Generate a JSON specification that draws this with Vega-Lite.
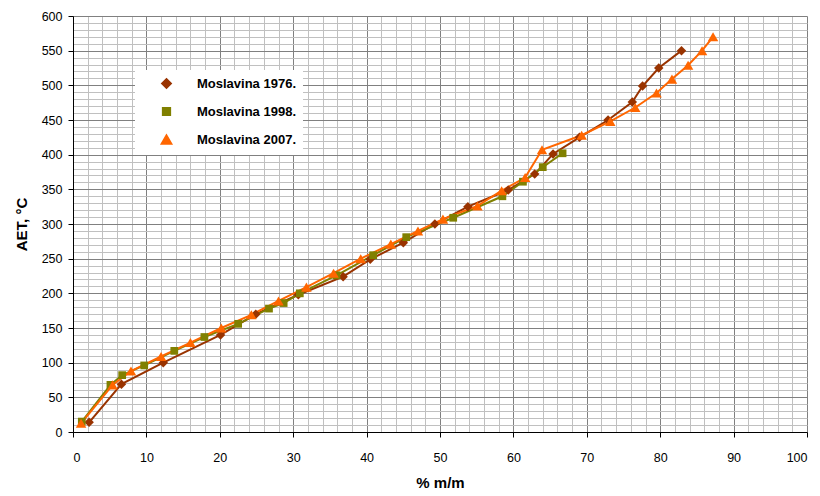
{
  "$schema": "https://vega.github.io/schema/vega-lite/v6.json",
  "width": 734,
  "height": 416,
  "autosize": {"type": "none"},
  "padding": {"left": 73, "top": 16, "right": 13, "bottom": 64},
  "background": "white",
  "config": {
    "view": {"stroke": null},
    "font": "Liberation Sans"
  },
  "data": {
    "values": [
      {"s": "Moslavina 1976.", "x": 2.2, "y": 14},
      {"s": "Moslavina 1976.", "x": 6.6, "y": 69},
      {"s": "Moslavina 1976.", "x": 12.3, "y": 100},
      {"s": "Moslavina 1976.", "x": 20.1, "y": 140},
      {"s": "Moslavina 1976.", "x": 24.9, "y": 170},
      {"s": "Moslavina 1976.", "x": 30.7, "y": 198},
      {"s": "Moslavina 1976.", "x": 36.8, "y": 224},
      {"s": "Moslavina 1976.", "x": 40.5, "y": 249},
      {"s": "Moslavina 1976.", "x": 45.0, "y": 273},
      {"s": "Moslavina 1976.", "x": 49.3, "y": 300},
      {"s": "Moslavina 1976.", "x": 53.8, "y": 325},
      {"s": "Moslavina 1976.", "x": 59.3, "y": 349},
      {"s": "Moslavina 1976.", "x": 62.9, "y": 372},
      {"s": "Moslavina 1976.", "x": 65.4, "y": 401},
      {"s": "Moslavina 1976.", "x": 69.0, "y": 425},
      {"s": "Moslavina 1976.", "x": 72.9, "y": 450},
      {"s": "Moslavina 1976.", "x": 76.2, "y": 476},
      {"s": "Moslavina 1976.", "x": 77.6, "y": 499},
      {"s": "Moslavina 1976.", "x": 79.8, "y": 525},
      {"s": "Moslavina 1976.", "x": 82.9, "y": 550},
      {"s": "Moslavina 1998.", "x": 1.2, "y": 15},
      {"s": "Moslavina 1998.", "x": 5.1, "y": 68},
      {"s": "Moslavina 1998.", "x": 6.7, "y": 82},
      {"s": "Moslavina 1998.", "x": 9.7, "y": 96},
      {"s": "Moslavina 1998.", "x": 13.8, "y": 117},
      {"s": "Moslavina 1998.", "x": 17.9, "y": 137},
      {"s": "Moslavina 1998.", "x": 22.5, "y": 156},
      {"s": "Moslavina 1998.", "x": 26.7, "y": 178},
      {"s": "Moslavina 1998.", "x": 28.7, "y": 186},
      {"s": "Moslavina 1998.", "x": 30.9, "y": 200},
      {"s": "Moslavina 1998.", "x": 35.9, "y": 226},
      {"s": "Moslavina 1998.", "x": 40.9, "y": 255},
      {"s": "Moslavina 1998.", "x": 45.4, "y": 281},
      {"s": "Moslavina 1998.", "x": 51.8, "y": 309},
      {"s": "Moslavina 1998.", "x": 58.5, "y": 340},
      {"s": "Moslavina 1998.", "x": 61.3, "y": 361},
      {"s": "Moslavina 1998.", "x": 64.0, "y": 382},
      {"s": "Moslavina 1998.", "x": 66.7, "y": 402},
      {"s": "Moslavina 2007.", "x": 1.1, "y": 12.5},
      {"s": "Moslavina 2007.", "x": 5.4, "y": 68},
      {"s": "Moslavina 2007.", "x": 7.9, "y": 88},
      {"s": "Moslavina 2007.", "x": 12.0, "y": 109},
      {"s": "Moslavina 2007.", "x": 16.0, "y": 129},
      {"s": "Moslavina 2007.", "x": 20.2, "y": 150},
      {"s": "Moslavina 2007.", "x": 24.3, "y": 169},
      {"s": "Moslavina 2007.", "x": 28.0, "y": 189},
      {"s": "Moslavina 2007.", "x": 31.8, "y": 209},
      {"s": "Moslavina 2007.", "x": 35.5, "y": 229},
      {"s": "Moslavina 2007.", "x": 39.2, "y": 250},
      {"s": "Moslavina 2007.", "x": 43.3, "y": 271},
      {"s": "Moslavina 2007.", "x": 47.0, "y": 290},
      {"s": "Moslavina 2007.", "x": 50.4, "y": 307},
      {"s": "Moslavina 2007.", "x": 55.1, "y": 326},
      {"s": "Moslavina 2007.", "x": 58.4, "y": 348},
      {"s": "Moslavina 2007.", "x": 61.6, "y": 367},
      {"s": "Moslavina 2007.", "x": 63.9, "y": 407},
      {"s": "Moslavina 2007.", "x": 69.3, "y": 428},
      {"s": "Moslavina 2007.", "x": 73.2, "y": 448},
      {"s": "Moslavina 2007.", "x": 76.6, "y": 468},
      {"s": "Moslavina 2007.", "x": 79.5, "y": 489},
      {"s": "Moslavina 2007.", "x": 81.6, "y": 509},
      {"s": "Moslavina 2007.", "x": 83.8, "y": 529},
      {"s": "Moslavina 2007.", "x": 85.7, "y": 550},
      {"s": "Moslavina 2007.", "x": 87.2, "y": 570}
    ]
  },
  "layer": [
    {
      "mark": {"type": "line", "strokeWidth": 2},
      "encoding": {
        "x": {
          "field": "x", "type": "quantitative",
          "scale": {"domain": [0, 100], "nice": false, "zero": false},
          "axis": {
            "orient": "top", "title": null, "labels": false, "ticks": false, "domain": false,
            "grid": true, "gridColor": "#c0c0c0", "gridWidth": 1,
            "values": [2,4,6,8,12,14,16,18,22,24,26,28,32,34,36,38,42,44,46,48,52,54,56,58,62,64,66,68,72,74,76,78,82,84,86,88,92,94,96,98]
          }
        },
        "y": {
          "field": "y", "type": "quantitative",
          "scale": {"domain": [0, 600], "nice": false, "zero": false},
          "axis": {
            "orient": "right", "title": null, "labels": false, "ticks": false, "domain": false,
            "grid": true, "gridColor": "#c0c0c0", "gridWidth": 1,
            "values": [10,20,30,40,60,70,80,90,110,120,130,140,160,170,180,190,210,220,230,240,260,270,280,290,310,320,330,340,360,370,380,390,410,420,430,440,460,470,480,490,510,520,530,540,560,570,580,590]
          }
        },
        "color": {
          "field": "s", "type": "nominal",
          "scale": {"domain": ["Moslavina 1976.", "Moslavina 1998.", "Moslavina 2007."], "range": ["#993300", "#808000", "#FF6600"]}
        },
        "detail": {"field": "s"}
      }
    },
    {
      "mark": {"type": "point", "filled": true, "opacity": 1},
      "encoding": {
        "x": {
          "field": "x", "type": "quantitative",
          "axis": {
            "orient": "bottom", "title": "% m/m",
            "values": [0,10,20,30,40,50,60,70,80,90,100],
            "grid": true, "gridColor": "#808080", "gridWidth": 1,
            "domainColor": "black", "domainWidth": 1,
            "tickColor": "black", "tickSize": 5,
            "labelFontSize": 12.5, "labelColor": "black", "labelPadding": 14,
            "titleFontSize": 15, "titleFontWeight": "bold", "titleColor": "black", "titlePadding": 12
          }
        },
        "y": {
          "field": "y", "type": "quantitative",
          "axis": {
            "orient": "left", "title": "AET, °C",
            "values": [0,50,100,150,200,250,300,350,400,450,500,550,600],
            "grid": true, "gridColor": "#808080", "gridWidth": 1,
            "domainColor": "black", "domainWidth": 1,
            "tickColor": "black", "tickSize": 5,
            "labelFontSize": 12.5, "labelColor": "black", "labelPadding": 6,
            "titleFontSize": 15, "titleFontWeight": "bold", "titleColor": "black", "titlePadding": 12
          }
        },
        "color": {
          "field": "s", "type": "nominal",
          "scale": {"domain": ["Moslavina 1976.", "Moslavina 1998.", "Moslavina 2007."], "range": ["#993300", "#808000", "#FF6600"]},
          "legend": {
            "title": null, "orient": "none", "legendX": 62, "legendY": 54,
            "fillColor": "white", "padding": 7,
            "symbolSize": 100, "symbolOffset": 18, "labelOffset": 24,
            "labelFontSize": 13, "labelFontWeight": "bold", "labelColor": "black",
            "rowPadding": 12
          }
        },
        "shape": {
          "field": "s", "type": "nominal",
          "scale": {"domain": ["Moslavina 1976.", "Moslavina 1998.", "Moslavina 2007."], "range": ["diamond", "square", "triangle-up"]},
          "legend": null
        },
        "size": {
          "field": "s", "type": "nominal",
          "scale": {"type": "ordinal", "domain": ["Moslavina 1976.", "Moslavina 1998.", "Moslavina 2007."], "range": [90, 60, 110]},
          "legend": null
        }
      }
    }
  ],
  "resolve": {"axis": {"x": "independent", "y": "independent"}}
}
